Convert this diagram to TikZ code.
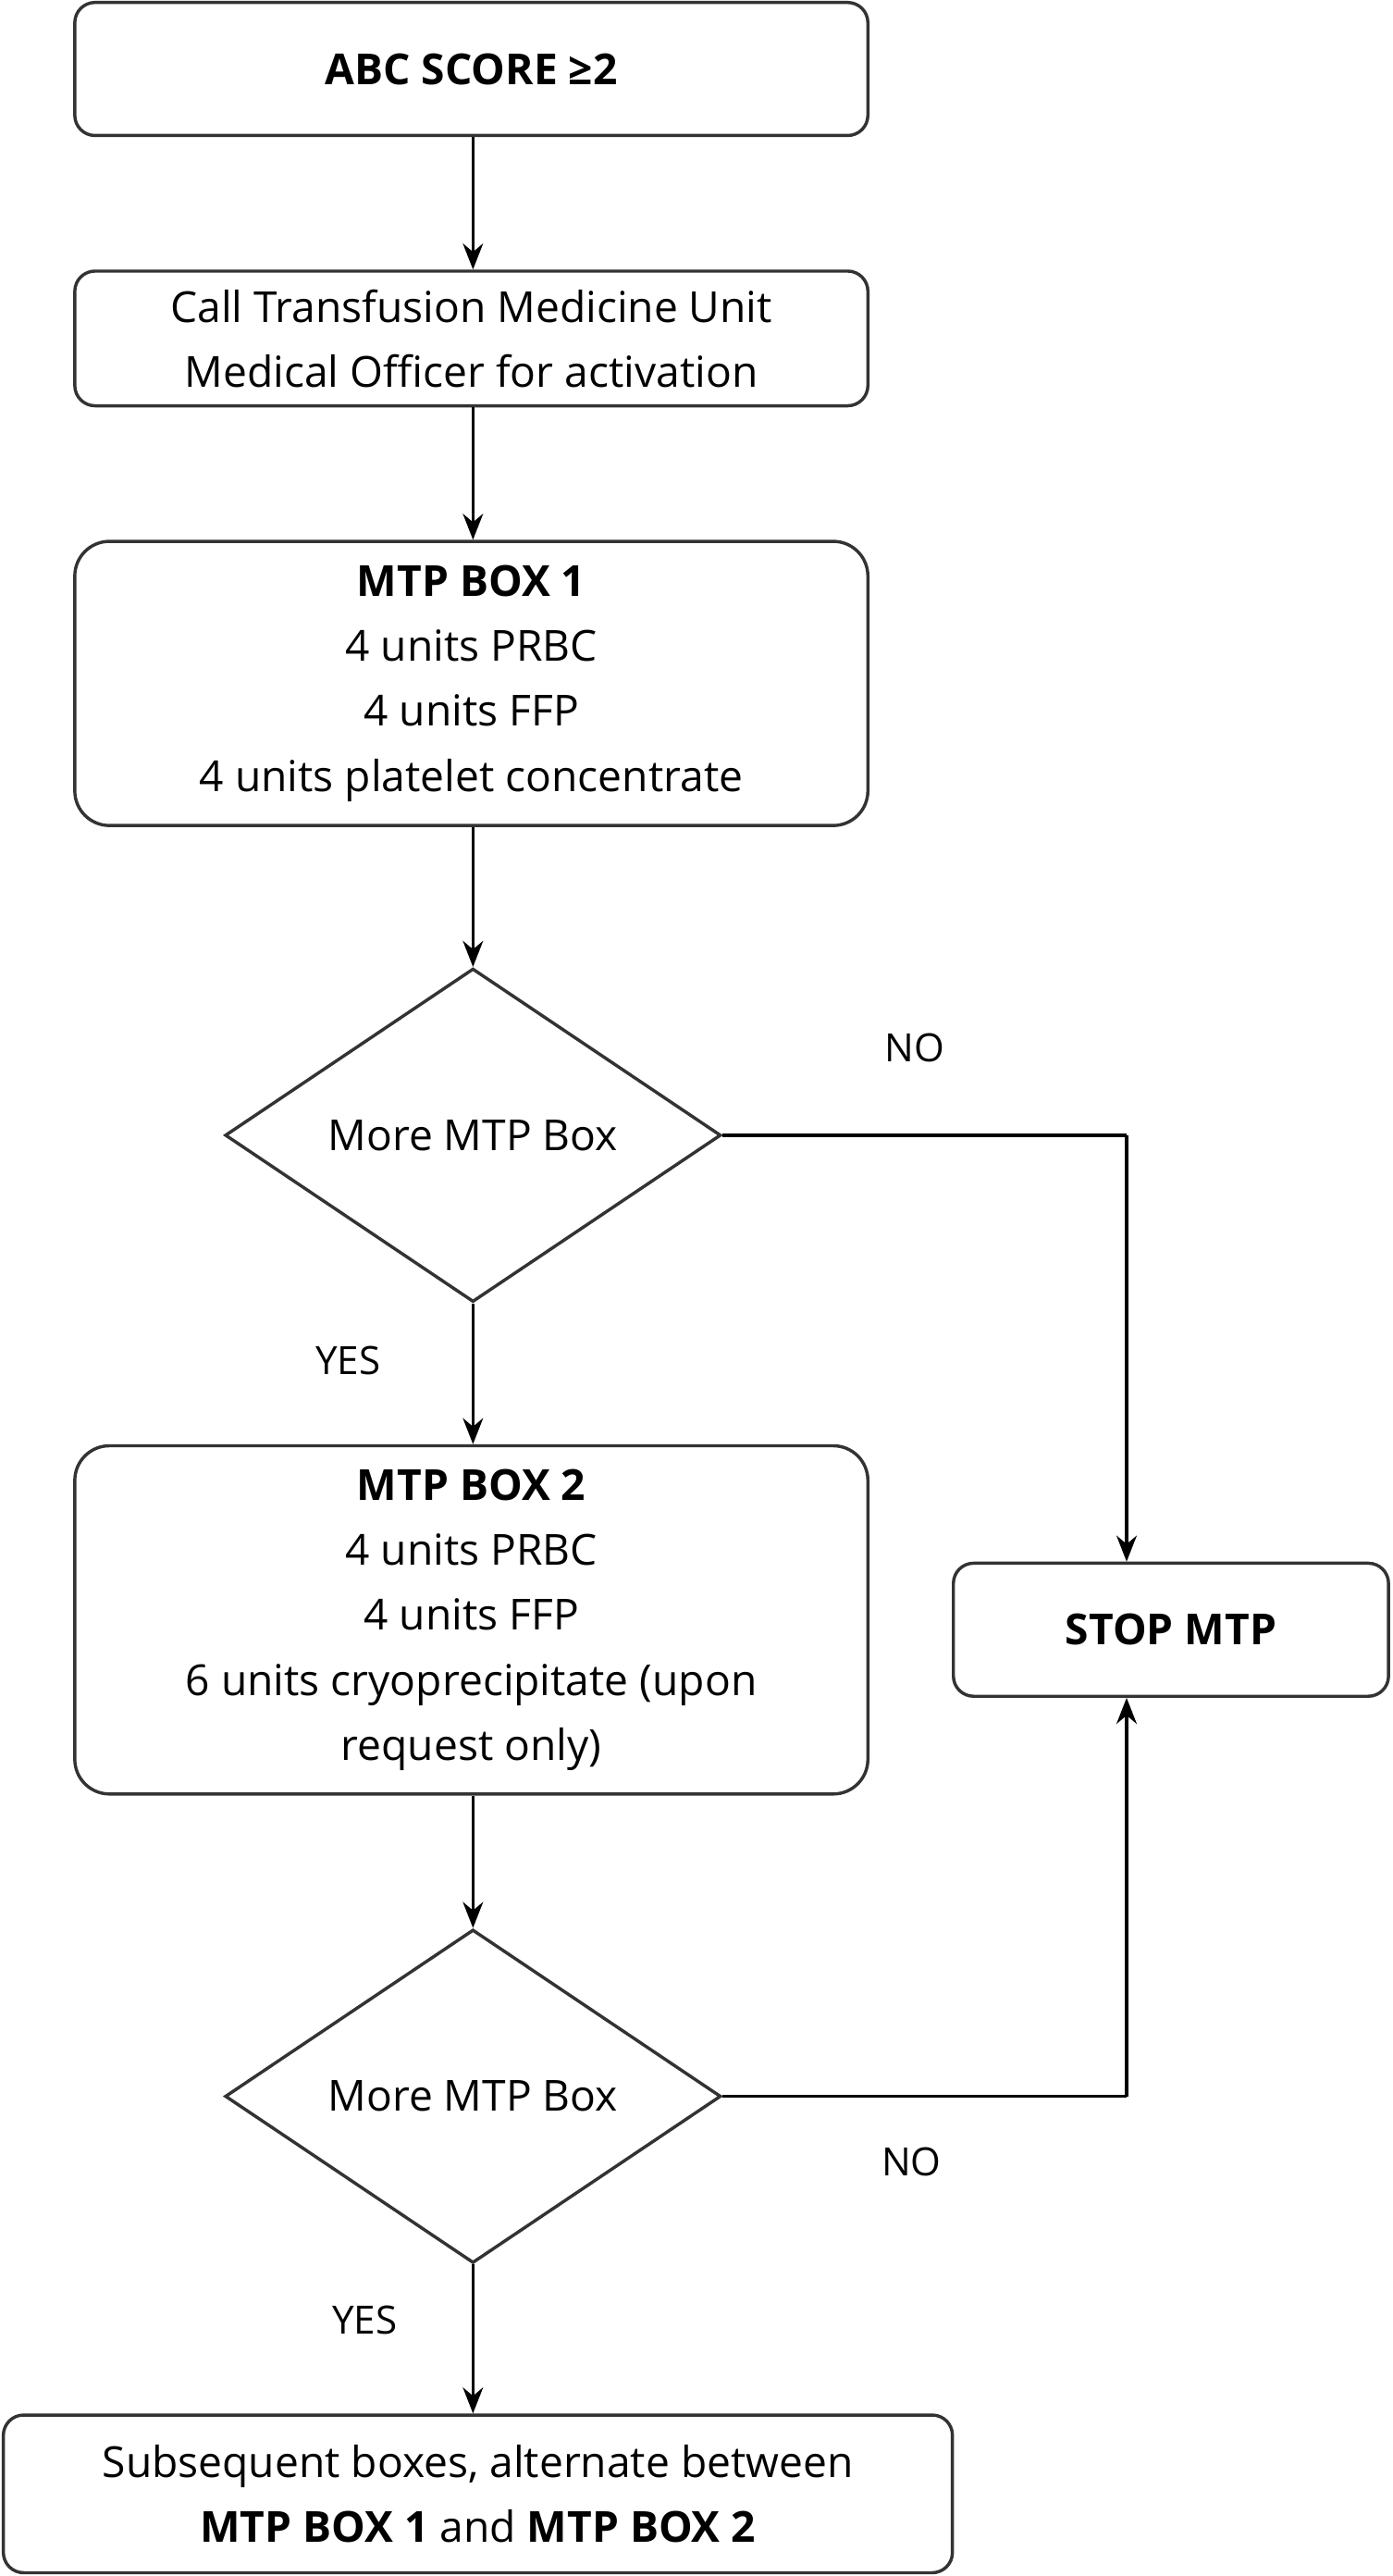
\documentclass[tikz,border=0pt]{standalone}
\usepackage{fontspec}
\setmainfont{Open Sans}
\usetikzlibrary{shapes.geometric, arrows.meta, positioning}
\tikzstyle{arrow} = [line width=1.1pt, ->, >={Stealth[length=9pt,width=7pt]}]

\begin{document}
\begin{tikzpicture}[
    x=0.02cm, y=-0.02cm,
    stepbox/.style={rectangle, draw=black!80, line width=1.1pt, rounded corners=7pt, align=center, font=\fontsize{14.8}{22.5}\selectfont},
    decision/.style={diamond, draw=black!80, line width=1.1pt, minimum width=6.04cm, minimum height=4.06cm, aspect=1.49, inner sep=0pt, font=\fontsize{14.8}{22.5}\selectfont},
    answer/.style={font=\fontsize{13.5}{16}\selectfont},
]
\useasboundingbox (0,0) rectangle (848,1568);

% Main column
\node[stepbox, minimum width=9.66cm, minimum height=1.62cm] (score) at (287,42) {\textbf{ABC SCORE ≥2}};
\node[stepbox, minimum width=9.66cm, minimum height=1.64cm] (call) at (287,206) {Call Transfusion Medicine Unit\\Medical Officer for activation};
\node[stepbox, rounded corners=12pt, minimum width=9.66cm, minimum height=3.46cm] (box1) at (287,416) {\textbf{MTP BOX 1}\\4 units PRBC\\4 units FFP\\4 units platelet concentrate};
\node[decision] (more1) at (288,691) {More MTP Box};
\node[stepbox, rounded corners=12pt, minimum width=9.66cm, minimum height=4.24cm] (box2) at (287,986) {\textbf{MTP BOX 2}\\4 units PRBC\\4 units FFP\\6 units cryoprecipitate (upon\\request only)};
\node[decision] (more2) at (288,1276) {More MTP Box};
\node[stepbox, minimum width=11.56cm, minimum height=1.92cm] (next) at (291,1518) {Subsequent boxes, alternate between\\\textbf{MTP BOX 1} and \textbf{MTP BOX 2}};

% Stop
\node[stepbox, minimum width=5.3cm, minimum height=1.62cm] (stop) at (713,992) {\textbf{STOP MTP}};
\coordinate (c1) at (686,691);
\coordinate (c2) at (686,1276);

% Connectors
\draw[arrow] (score.south -| more1) -- (call.north -| more1);
\draw[arrow] (call.south -| more1) -- (box1.north -| more1);
\draw[arrow] (box1.south -| more1) -- (more1);
\draw[arrow] (more1) -- (box2.north -| more1);
\draw[arrow] (box2.south -| more2) -- (more2);
\draw[arrow] (more2) -- (next.north -| more2);
\draw[line width=1.1pt] (more1.east) -- (c1);
\draw[arrow] (c1) -- (c1 |- stop.north);
\draw[line width=1.1pt] (more2.east) -- (c2);
\draw[arrow] (c2) -- (c2 |- stop.south);

% Labels
\node[answer] (no1) at (557,638) {NO};
\node[answer] (yes1) at (212,828) {YES};
\node[answer] (no2) at (555,1316) {NO};
\node[answer] (yes2) at (222,1412) {YES};

\end{tikzpicture}
\end{document}
